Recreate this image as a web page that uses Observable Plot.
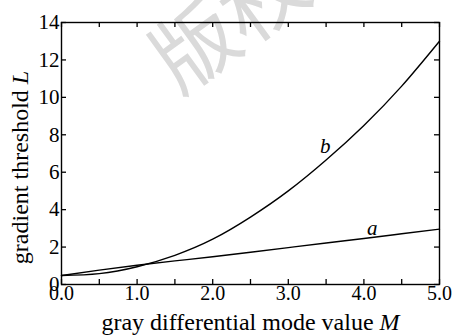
<!DOCTYPE html>
<html><head><meta charset="utf-8">
<script src="https://cdn.jsdelivr.net/npm/d3@7"></script>
<script src="https://cdn.jsdelivr.net/npm/@observablehq/plot@0.6"></script>
<style>body{margin:0;background:#fff}</style>
</head><body><div id="chart"></div>
<script>
const mValues = [0, 0.5, 1, 1.5, 2, 2.5, 3, 3.5, 4, 4.5, 5];
const seriesA = [0.48, 0.77, 1.03, 1.26, 1.48, 1.72, 1.97, 2.22, 2.46, 2.71, 2.96];
const seriesB = [0.48, 0.58, 0.95, 1.56, 2.42, 3.6, 5.0, 6.65, 8.5, 10.6, 13.0];
const xTicks = [0, 1, 2, 3, 4, 5];
const xMinorTicks = [0, 0.5, 1, 1.5, 2, 2.5, 3, 3.5, 4, 4.5, 5];
const yTicks = [0, 2, 4, 6, 8, 10, 12, 14];
const curveLabels = ["a", "b"];
const curveLabelM = [4.11, 3.49];
const curveLabelL = [2.98, 7.41];
const xLabel = "gray differential mode value M";
const yLabel = "gradient threshold L";
const watermark = "版权";

const rows = [];
mValues.forEach((m, i) => {
  rows.push({series: "a", m, L: seriesA[i]});
  rows.push({series: "b", m, L: seriesB[i]});
});
const labelRows = curveLabels.map((t, i) => ({t, m: curveLabelM[i], L: curveLabelL[i]}));

const W = 453, H = 335, mL = 61, mR = 14, mT = 22, mB = 51;
const fw = W - mL - mR, fh = H - mT - mB, tl = 5;
const serif = "Liberation Serif";

const svg = Plot.plot({
  width: W, height: H,
  marginLeft: mL, marginRight: mR, marginTop: mT, marginBottom: mB,
  style: {fontFamily: serif, background: "#fff", color: "#000", overflow: "visible"},
  x: {domain: [0, 5]},
  y: {domain: [0, 14]},
  marks: [
    Plot.text([watermark], {frameAnchor: "top-left", dx: 170, dy: 2, text: d => d, fontSize: 84,
      textAnchor: "middle", lineAnchor: "middle",
      rotate: -36, fill: "#dadada", fontFamily: "Noto Sans CJK SC"}),
    Plot.axisX({ticks: xTicks, tickFormat: d => d.toFixed(1), tickSize: 0, tickPadding: 1, fontSize: 20, label: null}),
    Plot.axisY({ticks: yTicks, tickSize: 0, tickPadding: 2, fontSize: 21, label: null}),
    Plot.tickX(xMinorTicks, {x: d => d, insetTop: fh - tl, stroke: "#000", strokeWidth: 1.3}),
    Plot.tickX(xMinorTicks, {x: d => d, insetBottom: fh - tl, stroke: "#000", strokeWidth: 1.3}),
    Plot.tickY(yTicks, {y: d => d, insetRight: fw - tl, stroke: "#000", strokeWidth: 1.3}),
    Plot.tickY(yTicks, {y: d => d, insetLeft: fw - tl, stroke: "#000", strokeWidth: 1.3}),
    Plot.line(rows, {x: "m", y: "L", z: "series", curve: "natural", stroke: "#000", strokeWidth: 1.4}),
    Plot.text(labelRows, {x: "m", y: "L", text: "t", fontSize: 21, fontStyle: "italic"}),
    Plot.text([xLabel], {frameAnchor: "bottom", text: d => d, dy: 38, fontSize: 24,
      textAnchor: "middle", lineAnchor: "middle"}),
    Plot.text([yLabel], {frameAnchor: "left", text: d => d, dx: -41, dy: 14, rotate: -90, fontSize: 24,
      textAnchor: "middle", lineAnchor: "middle"}),
    Plot.frame({stroke: "#000", strokeWidth: 1.4})
  ]
});

d3.select(svg).selectAll("text").each(function() {
  const t = this.textContent;
  if (t !== watermark) {
    this.style.fontFamily = "'Liberation Serif', 'Times New Roman', serif";
    this.style.fontVariant = "normal";
  }
  if (t === xLabel || t === yLabel) {
    const base = t.slice(0, -1);
    const last = t.slice(-1);
    const sel = d3.select(this);
    sel.text(null);
    sel.append("tspan").text(base);
    sel.append("tspan").attr("font-style", "italic").text(last);
  }
});
d3.select(svg).selectAll("g").each(function() {
  if (this.getAttribute("font-variant")) this.setAttribute("font-variant", "normal");
});

document.getElementById("chart").appendChild(svg);
</script>
</body></html>
